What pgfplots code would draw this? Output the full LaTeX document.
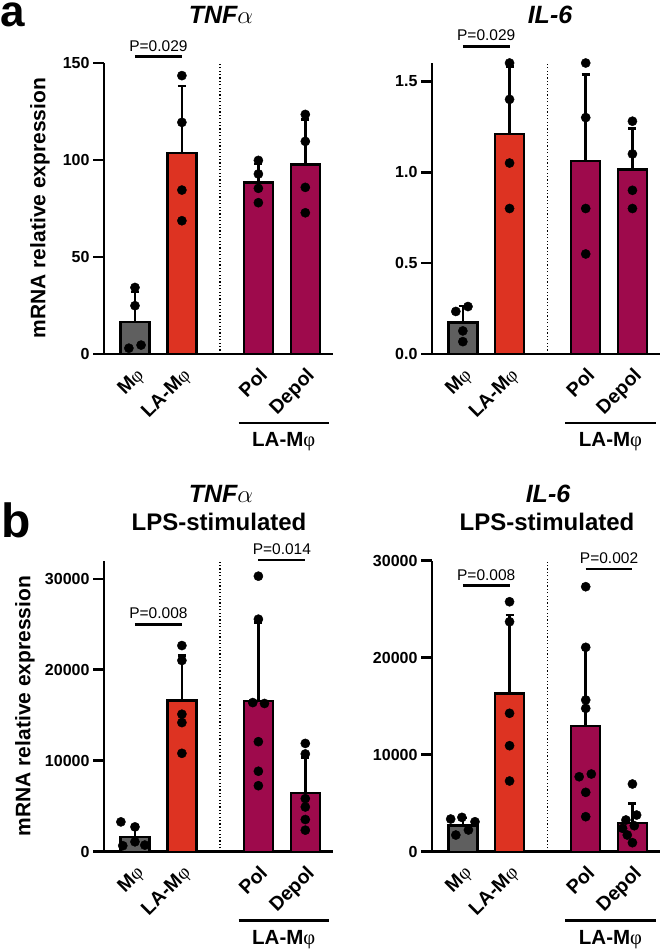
\documentclass[border=0pt]{standalone}
\usepackage{pgfplots}
\pgfplotsset{compat=1.18}
\usepackage{fontspec}
\setmainfont{Liberation Sans}
\newfontfamily\phifont{Liberation Serif}
\newcommand\Mphi{M{\phifont\mdseries φ}}
\newcommand\Alpha{{\fontsize{31}{31}\selectfont$\alpha$}}
\definecolor{cgray}{HTML}{5F5F5F}
\definecolor{cred}{HTML}{DD3322}
\definecolor{cpur}{HTML}{9E0A4C}
\pgfplotsset{
 panel/.style={
  scale only axis, width=229pt, height=291pt, anchor=south west,
  axis x line*=bottom, axis y line*=left,
  axis line style={line width=2.8pt},
  xmin=-0.66, xmax=4.22, ymin=0,
  xtick={0,1,2.63,3.63},
  xticklabels={\Mphi,LA-\Mphi,Pol,Depol},
  xticklabel style={font=\bfseries\fontsize{19.5}{20}\selectfont, rotate=45, anchor=north east, inner sep=1pt},
  yticklabel style={font=\bfseries\fontsize{16}{16}\selectfont},
  xtick style={draw=none},
  ytick style={line width=2.8pt, black},
  tick align=outside, major tick length=11pt,
  scaled y ticks=false,
  /pgf/number format/assume math mode=true,
  /pgf/number format/1000 sep={},
  clip=false,
 },
 bars/.style={ybar, bar shift=0pt, bar width=0.62, draw=black, line width=2.4pt, fill=#1,
   error bars/.cd, y dir=plus, y explicit,
   error bar style={line width=2.6pt, black},
   error mark options={rotate=90, mark size=4pt, line width=2.6pt, black}},
 dots/.style={only marks, mark=*, mark size=4.6pt, black, mark options={fill=black}},
}
\tikzset{
 sep/.style={line width=1.2pt, dash pattern=on 1.2pt off 2.2pt},
 pline/.style={line width=2.6pt},
 ptext/.style={font=\fontsize{15.5}{15.5}\selectfont, anchor=south, inner sep=0pt, yshift=4pt},
 grp/.style={font=\bfseries\fontsize{20.5}{21}\selectfont},
}
\begin{document}
\begin{tikzpicture}
\path[use as bounding box] (0pt,0pt) rectangle (666pt,-951pt);
% ---------- a left ----------
\begin{axis}[panel, at={(104pt,-354pt)}, ymax=150, ytick={0,50,100,150}]
\addplot[bars=cgray] coordinates {(0,16.5) +- (0,15.5)};
\addplot[bars=cred] coordinates {(1,103.5) +- (0,34.6)};
\addplot[bars=cpur] coordinates {(2.63,88.5) +- (0,9.4)};
\addplot[bars=cpur] coordinates {(3.63,97.7) +- (0,23.3)};
\addplot[dots] coordinates {(0,34.3) (0,24.9) (-0.13,3.0) (0.13,4.6)
 (1,143.5) (1,119.4) (1,84.5) (1,68.7)
 (2.63,99.8) (2.63,92.8) (2.63,85.4) (2.63,78.0)
 (3.63,123.5) (3.63,109.6) (3.63,85.9) (3.63,72.8)};
\draw[sep] (axis cs:1.81,0) -- (axis cs:1.81,150);
\draw[pline] (axis cs:0,153.3) -- (axis cs:1,153.3) node[midway, ptext] {P=0.029};
\draw[pline] ([yshift=-69pt]axis cs:2.21,0) -- ([yshift=-69pt]axis cs:4.13,0);
\node[grp] at ([yshift=-88pt]axis cs:3.17,0) {LA-\Mphi};
\end{axis}
% ---------- a right ----------
\begin{axis}[panel, at={(432pt,-354pt)}, width=228pt, ymax=1.6, ytick={0,0.5,1,1.5}, yticklabels={0.0,0.5,1.0,1.5}]
\addplot[bars=cgray] coordinates {(0,0.173) +- (0,0.09)};
\addplot[bars=cred] coordinates {(1,1.21) +- (0,0.37)};
\addplot[bars=cpur] coordinates {(2.63,1.06) +- (0,0.476)};
\addplot[bars=cpur] coordinates {(3.63,1.015) +- (0,0.225)};
\addplot[dots] coordinates {(-0.15,0.234) (0.11,0.261) (0,0.127) (0,0.068)
 (1,1.60) (1,1.40) (1,1.05) (1,0.80)
 (2.63,1.60) (2.63,1.30) (2.63,0.80) (2.63,0.55)
 (3.63,1.28) (3.63,1.10) (3.63,0.90) (3.63,0.80)};
\draw[sep] (axis cs:1.81,0) -- (axis cs:1.81,1.6);
\draw[pline] (axis cs:0,1.692) -- (axis cs:1,1.692) node[midway, ptext] {P=0.029};
\draw[pline] ([yshift=-69pt]axis cs:2.19,0) -- ([yshift=-69pt]axis cs:4.13,0);
\node[grp] at ([yshift=-88pt]axis cs:3.16,0) {LA-\Mphi};
\end{axis}
% ---------- b left ----------
\begin{axis}[panel, at={(104pt,-851.7pt)}, ymax=32000, ytick={0,10000,20000,30000}]
\addplot[bars=cgray] coordinates {(0,1650) +- (0,1220)};
\addplot[bars=cred] coordinates {(1,16650) +- (0,4950)};
\addplot[bars=cpur] coordinates {(2.63,16600) +- (0,8600)};
\addplot[bars=cpur] coordinates {(3.63,6450) +- (0,3930)};
\addplot[dots] coordinates {(-0.3,3280) (0,2730) (-0.26,660) (0,1090) (0.21,730)
 (1,22670) (1,21030) (1,15120) (1,14200) (1,10820)
 (2.63,30300) (2.63,25570) (2.51,16400) (2.76,16300) (2.63,12100) (2.63,8850) (2.63,7260)
 (3.63,11910) (3.63,10750) (3.63,5840) (3.63,4920) (3.63,3540) (3.63,2370)};
\draw[sep] (axis cs:1.81,0) -- (axis cs:1.81,32000);
\draw[pline] (axis cs:0,25000) -- (axis cs:1,25000) node[midway, ptext] {P=0.008};
\draw[pline] (axis cs:2.63,32100) -- (axis cs:3.63,32100) node[midway, ptext] {P=0.014};
\draw[pline] ([yshift=-69pt]axis cs:2.21,0) -- ([yshift=-69pt]axis cs:4.13,0);
\node[grp] at ([yshift=-88pt]axis cs:3.17,0) {LA-\Mphi};
\end{axis}
% ---------- b right ----------
\begin{axis}[panel, at={(432pt,-851.7pt)}, width=228pt, ymax=30000, ytick={0,10000,20000,30000}]
\addplot[bars=cgray] coordinates {(0,2700) +- (0,780)};
\addplot[bars=cred] coordinates {(1,16300) +- (0,8100)};
\addplot[bars=cpur] coordinates {(2.63,12950) +- (0,8180)};
\addplot[bars=cpur] coordinates {(3.63,2950) +- (0,2050)};
\addplot[dots] coordinates {(-0.26,3370) (-0.02,3540) (0.26,3090) (-0.15,1720) (0.12,2240)
 (1,25770) (1,23710) (1,14270) (1,10930) (1,7290)
 (2.63,27320) (2.63,21070) (2.63,15640) (2.63,14780) (2.49,7730) (2.75,8010) (2.63,6120) (2.63,3610)
 (3.63,6980) (3.49,3270) (3.72,3780) (3.42,2410) (3.67,2680) (3.52,1720) (3.63,930)};
\draw[sep] (axis cs:1.81,0) -- (axis cs:1.81,30000);
\draw[pline] (axis cs:0,27420) -- (axis cs:1,27420) node[midway, ptext] {P=0.008};
\draw[pline] (axis cs:2.63,29140) -- (axis cs:3.63,29140) node[midway, ptext] {P=0.002};
\draw[pline] ([yshift=-69pt]axis cs:2.19,0) -- ([yshift=-69pt]axis cs:4.13,0);
\node[grp] at ([yshift=-88pt]axis cs:3.16,0) {LA-\Mphi};
\end{axis}
% ---------- titles and labels ----------
\node[anchor=base, font=\bfseries\itshape\fontsize{25}{25}\selectfont] at (221pt,-23pt) {TNF\Alpha};
\node[anchor=base, font=\bfseries\itshape\fontsize{25}{25}\selectfont] at (550pt,-23pt) {IL-6};
\node[anchor=base, font=\bfseries\itshape\fontsize{25}{25}\selectfont] at (221pt,-502pt) {TNF\Alpha};
\node[anchor=base, font=\bfseries\fontsize{24}{24}\selectfont] at (219pt,-530pt) {LPS-stimulated};
\node[anchor=base, font=\bfseries\itshape\fontsize{25}{25}\selectfont] at (548pt,-502pt) {IL-6};
\node[anchor=base, font=\bfseries\fontsize{24}{24}\selectfont] at (547pt,-530pt) {LPS-stimulated};
\node[anchor=base west, inner sep=0pt, font=\bfseries\fontsize{44}{44}\selectfont] at (0pt,-26pt) {a};
\node[anchor=base west, inner sep=0pt, font=\bfseries\fontsize{48}{48}\selectfont] at (1pt,-537pt) {b};
\node[rotate=90, font=\bfseries\fontsize{21}{21}\selectfont] at (40pt,-208pt) {mRNA relative expression};
\node[rotate=90, font=\bfseries\fontsize{21}{21}\selectfont] at (25pt,-706pt) {mRNA relative expression};
\end{tikzpicture}
\end{document}
